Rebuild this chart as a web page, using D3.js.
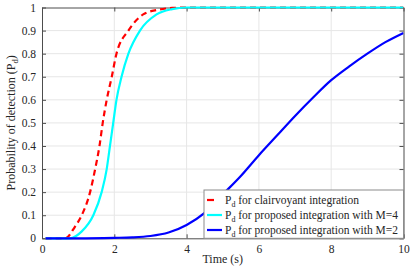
<!DOCTYPE html>
<html>
<head>
  <meta charset="UTF-8" />
  <script src="https://d3js.org/d3.v7.min.js"></script>
  <style>
    body { margin: 0; background: #fff; }
    svg text { font-family: "Liberation Serif", "Times New Roman", "DejaVu Serif", serif; fill: #262626; }
    .grid line { stroke: #e6e6e6; stroke-width: 1; }
    .axis path, .axis line { stroke: #4d4d4d; }
  </style>
</head>
<body>
  <svg id="chart" width="415" height="270"></svg>
  <script>
    // values
    const clairT = [0.1, 0.64, 0.91, 1.1, 1.33, 1.47, 1.59, 1.68, 1.79, 1.93, 2.06, 2.39, 2.8, 3.2, 3.6, 4, 10];
    const clairV = [0, 0, 0.05, 0.1, 0.2, 0.3, 0.4, 0.5, 0.6, 0.7, 0.8, 0.9, 0.97, 0.99, 0.998, 1, 1];
    const m4T = [0.1, 0.77, 1.1, 1.42, 1.65, 1.79, 1.88, 1.97, 2.06, 2.2, 2.39, 2.71, 3.17, 3.6, 4, 10];
    const m4V = [0, 0, 0.03, 0.1, 0.2, 0.3, 0.4, 0.5, 0.6, 0.7, 0.8, 0.9, 0.97, 0.993, 1, 1];
    const m2T = [0.1, 1, 2, 2.5, 3, 3.5, 4, 4.5, 5, 5.5, 6, 6.5, 7, 7.5, 8, 8.5, 9, 9.5, 10];
    const m2V = [0, 0, 0.002, 0.004, 0.01, 0.025, 0.058, 0.11, 0.19, 0.27, 0.36, 0.445, 0.53, 0.61, 0.685, 0.745, 0.80, 0.85, 0.89];
    const xTicks = [0, 2, 4, 6, 8, 10];
    const yTicks = [0, 0.1, 0.2, 0.3, 0.4, 0.5, 0.6, 0.7, 0.8, 0.9, 1];
    const seriesNames = ["for clairvoyant integration", "for proposed integration with M=4", "for proposed integration with M=2"];

    const svg = d3.select("#chart");
    const mL = 42, mR = 403.5, mT = 7.5, mB = 238.3;
    const serif = "'Liberation Serif', 'Times New Roman', 'DejaVu Serif', serif";

    const x = d3.scaleLinear().domain([0, 10]).range([mL, mR]);
    const y = d3.scaleLinear().domain([0, 1]).range([mB, mT]);

    // grid
    const grid = svg.append("g").attr("class", "grid");
    grid.selectAll("line.gx").data(xTicks.slice(1, -1)).join("line")
      .attr("x1", d => x(d)).attr("x2", d => x(d)).attr("y1", mT).attr("y2", mB);
    grid.selectAll("line.gy").data(yTicks.slice(1, -1)).join("line")
      .attr("y1", d => y(d)).attr("y2", d => y(d)).attr("x1", mL).attr("x2", mR);

    // axes with inward ticks on all four sides
    const fmt = d => d === 0 ? "0" : d === 1 ? "1" : d3.format(".1f")(d);
    svg.append("g").attr("class", "axis").attr("transform", `translate(0,${mB})`)
      .call(d3.axisBottom(x).tickValues(xTicks).tickSizeInner(-4).tickSizeOuter(0).tickPadding(7));
    svg.append("g").attr("class", "axis").attr("transform", `translate(${mL},0)`)
      .call(d3.axisLeft(y).tickValues(yTicks).tickFormat(fmt).tickSizeInner(-4).tickSizeOuter(0).tickPadding(6));
    svg.append("g").attr("class", "axis").attr("transform", `translate(0,${mT})`)
      .call(d3.axisTop(x).tickValues(xTicks).tickSizeInner(-4).tickSizeOuter(0).tickFormat(""));
    svg.append("g").attr("class", "axis").attr("transform", `translate(${mR},0)`)
      .call(d3.axisRight(y).tickValues(yTicks).tickSizeInner(-4).tickSizeOuter(0).tickFormat(""));
    svg.selectAll(".axis").attr("font-family", serif);
    svg.selectAll(".axis text").style("font-size", "11.5px").style("font-family", serif).attr("fill", "#262626");

    // curves
    const line = d3.line().x(d => x(d[0])).y(d => y(d[1])).curve(d3.curveMonotoneX);
    const series = [
      { t: clairT, vals: clairV, color: "#ff0000", dash: "6,4" },
      { t: m4T, vals: m4V, color: "#00ffff", dash: null },
      { t: m2T, vals: m2V, color: "#0000ff", dash: null }
    ];
    svg.append("clipPath").attr("id", "plotclip").append("rect")
      .attr("x", mL).attr("y", mT - 2).attr("width", mR - mL).attr("height", mB - mT + 4);
    svg.append("g").attr("clip-path", "url(#plotclip)")
      .selectAll("path.curve").data(series).join("path")
      .attr("fill", "none")
      .attr("stroke", d => d.color)
      .attr("stroke-width", 2.2)
      .attr("stroke-dasharray", d => d.dash)
      .attr("d", d => line(d.t.map((t, i) => [t, d.vals[i]])));

    // legend
    const lg = svg.append("g");
    lg.append("rect").attr("x", 204).attr("y", 190).attr("width", mR - 204).attr("height", mB - 190)
      .attr("fill", "#fff").attr("stroke", "#8c8c8c").attr("stroke-width", 1);
    const rows = lg.selectAll("g.row").data(series).join("g")
      .attr("transform", (d, i) => `translate(0,${200 + i * 15})`);
    rows.append("line")
      .attr("x1", 207).attr("x2", (d, i) => i === 0 ? 214 : 222)
      .attr("y1", 0).attr("y2", 0)
      .attr("stroke", d => d.color).attr("stroke-width", 2.2);
    const lt = rows.append("text").attr("x", 225).attr("y", 3.5)
      .style("font-size", "11.5px").style("font-family", serif);
    lt.append("tspan").text("P");
    lt.append("tspan").attr("dy", 3).style("font-size", "8px").text("d");
    lt.append("tspan").attr("dy", -3).text((d, i) => " " + seriesNames[i]);

    // labels
    svg.append("text").attr("x", (mL + mR) / 2).attr("y", 263).attr("text-anchor", "middle")
      .style("font-size", "12px").style("font-family", serif).text("Time (s)");
    const yl = svg.append("text").attr("transform", `translate(15,${(mT + mB) / 2}) rotate(-90)`)
      .attr("text-anchor", "middle").style("font-size", "12px").style("font-family", serif);
    yl.append("tspan").text("Probability of detection (P");
    yl.append("tspan").attr("dy", 3).style("font-size", "8.5px").text("d");
    yl.append("tspan").attr("dy", -3).text(")");
  </script>
</body>
</html>
